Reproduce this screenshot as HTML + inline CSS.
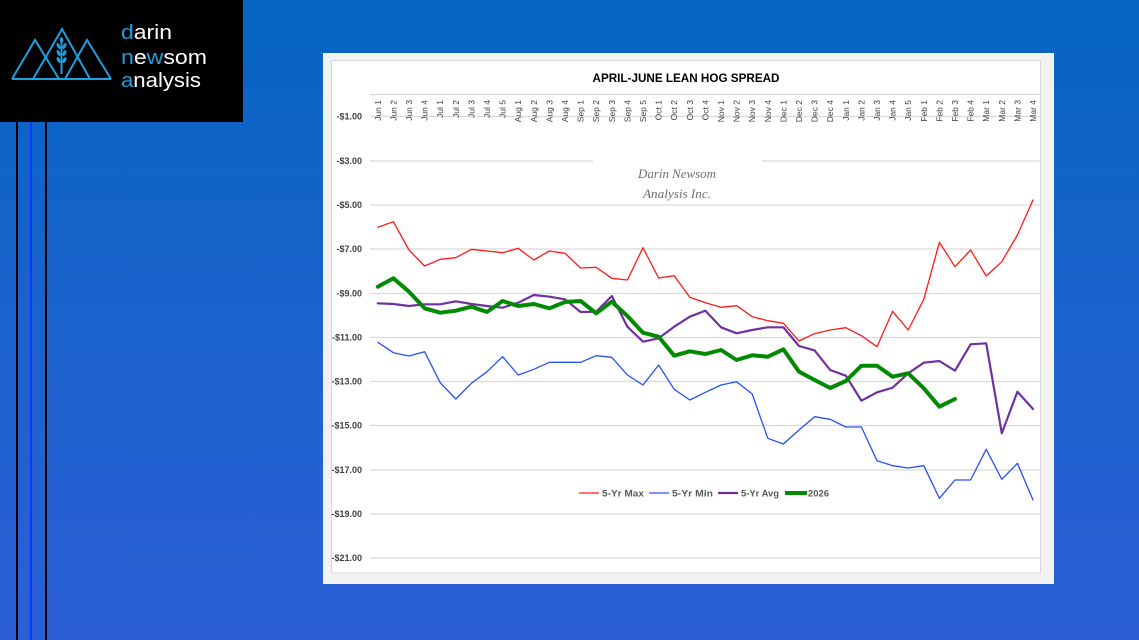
<!DOCTYPE html>
<html><head><meta charset="utf-8"><style>
html,body{margin:0;padding:0;width:1139px;height:640px;overflow:hidden;background:linear-gradient(180deg,#0565c2 0%,#1b62cc 50%,#2c5fd7 100%);}
svg{display:block;}
</style></head><body>
<svg width="1139" height="640" viewBox="0 0 1139 640" xmlns="http://www.w3.org/2000/svg">
<!-- logo -->
<rect x="0" y="0" width="243" height="122" fill="#000"/>
<g fill="none" stroke="#1e9fe0" stroke-width="2" stroke-linejoin="miter">
<polyline points="12,79 35,40 59,79"/>
<polyline points="33,79 62,29 90,79"/>
<polyline points="65,79 87,40 111,79"/>
<line x1="12" y1="79" x2="111" y2="79"/>
<line x1="61.5" y1="40" x2="61.5" y2="74"/>
</g>
<g fill="#1e9fe0">
<ellipse cx="61.5" cy="40" rx="1.6" ry="3"/>
<ellipse cx="58.5" cy="46" rx="1.6" ry="3.2" transform="rotate(-25 58.5 46)"/>
<ellipse cx="64.5" cy="46" rx="1.6" ry="3.2" transform="rotate(25 64.5 46)"/>
<ellipse cx="58.5" cy="53" rx="1.6" ry="3.2" transform="rotate(-25 58.5 53)"/>
<ellipse cx="64.5" cy="53" rx="1.6" ry="3.2" transform="rotate(25 64.5 53)"/>
<ellipse cx="58.5" cy="60" rx="1.6" ry="3.2" transform="rotate(-25 58.5 60)"/>
<ellipse cx="64.5" cy="60" rx="1.6" ry="3.2" transform="rotate(25 64.5 60)"/>
</g>
<g font-family="Liberation Sans, sans-serif" font-size="20" fill="#fff">
<text x="121" y="39" textLength="51" lengthAdjust="spacingAndGlyphs"><tspan fill="#1e9fe0">d</tspan>arin</text>
<text x="121" y="64" textLength="86" lengthAdjust="spacingAndGlyphs"><tspan fill="#1e9fe0">n</tspan>e<tspan fill="#1e9fe0">w</tspan>som</text>
<text x="121" y="87" textLength="80" lengthAdjust="spacingAndGlyphs"><tspan fill="#1e9fe0">a</tspan>nalysis</text>
</g>
<!-- left vertical lines -->
<rect x="16" y="122" width="2" height="518" fill="#000"/>
<rect x="30" y="122" width="2" height="518" fill="#0a36ff"/>
<rect x="45" y="122" width="2" height="518" fill="#000"/>

<!-- chart panel -->
<rect x="323" y="53" width="731" height="531" fill="#f2f2f2"/>
<rect x="331.5" y="60.5" width="709" height="512.5" fill="#fff" stroke="#d9d9d9" stroke-width="1"/>

<text x="686" y="82" text-anchor="middle" font-family="Liberation Sans, sans-serif" font-weight="bold" font-size="12" fill="#000" textLength="187" lengthAdjust="spacingAndGlyphs">APRIL-JUNE LEAN HOG SPREAD</text>

<!-- gridlines -->
<g stroke="#d9d9d9" stroke-width="1.2">
<line x1="370" y1="94.5" x2="1041" y2="94.5"/>
<line x1="370" y1="116.5" x2="1041" y2="116.5"/>
<line x1="370" y1="161" x2="593" y2="161"/>
<line x1="762" y1="161" x2="1041" y2="161"/>
<line x1="370" y1="205" x2="1041" y2="205"/>
<line x1="370" y1="249" x2="1041" y2="249"/>
<line x1="370" y1="293.5" x2="1041" y2="293.5"/>
<line x1="370" y1="337.5" x2="1041" y2="337.5"/>
<line x1="370" y1="381.5" x2="1041" y2="381.5"/>
<line x1="370" y1="425.5" x2="1041" y2="425.5"/>
<line x1="370" y1="470" x2="1041" y2="470"/>
<line x1="370" y1="514" x2="1041" y2="514"/>
<line x1="370" y1="558" x2="1041" y2="558"/>
</g>

<!-- y labels -->
<g font-family="Liberation Sans, sans-serif" font-weight="bold" font-size="9" fill="#404040" text-anchor="end">
<text x="362" y="119.5">-$1.00</text>
<text x="362" y="164">-$3.00</text>
<text x="362" y="208">-$5.00</text>
<text x="362" y="252">-$7.00</text>
<text x="362" y="296.5">-$9.00</text>
<text x="362" y="340.5">-$11.00</text>
<text x="362" y="384.5">-$13.00</text>
<text x="362" y="428.5">-$15.00</text>
<text x="362" y="473">-$17.00</text>
<text x="362" y="517">-$19.00</text>
<text x="362" y="561">-$21.00</text>
</g>

<!-- x labels -->
<g font-family="Liberation Sans, sans-serif" font-size="8.5" fill="#404040" text-anchor="end">
<text transform="translate(380.8,100) rotate(-90)">Jun 1</text>
<text transform="translate(396.4,100) rotate(-90)">Jun 2</text>
<text transform="translate(412,100) rotate(-90)">Jun 3</text>
<text transform="translate(427.6,100) rotate(-90)">Jun 4</text>
<text transform="translate(443.2,100) rotate(-90)">Jul 1</text>
<text transform="translate(458.8,100) rotate(-90)">Jul 2</text>
<text transform="translate(474.4,100) rotate(-90)">Jul 3</text>
<text transform="translate(490,100) rotate(-90)">Jul 4</text>
<text transform="translate(505.6,100) rotate(-90)">Jul 5</text>
<text transform="translate(521.2,100) rotate(-90)">Aug 1</text>
<text transform="translate(536.8,100) rotate(-90)">Aug 2</text>
<text transform="translate(552.4,100) rotate(-90)">Aug 3</text>
<text transform="translate(568,100) rotate(-90)">Aug 4</text>
<text transform="translate(583.6,100) rotate(-90)">Sep 1</text>
<text transform="translate(599.2,100) rotate(-90)">Sep 2</text>
<text transform="translate(614.8,100) rotate(-90)">Sep 3</text>
<text transform="translate(630.4,100) rotate(-90)">Sep 4</text>
<text transform="translate(646,100) rotate(-90)">Sep 5</text>
<text transform="translate(661.6,100) rotate(-90)">Oct 1</text>
<text transform="translate(677.2,100) rotate(-90)">Oct 2</text>
<text transform="translate(692.8,100) rotate(-90)">Oct 3</text>
<text transform="translate(708.4,100) rotate(-90)">Oct 4</text>
<text transform="translate(724,100) rotate(-90)">Nov 1</text>
<text transform="translate(739.6,100) rotate(-90)">Nov 2</text>
<text transform="translate(755.2,100) rotate(-90)">Nov 3</text>
<text transform="translate(770.8,100) rotate(-90)">Nov 4</text>
<text transform="translate(786.4,100) rotate(-90)">Dec 1</text>
<text transform="translate(802,100) rotate(-90)">Dec 2</text>
<text transform="translate(817.6,100) rotate(-90)">Dec 3</text>
<text transform="translate(833.2,100) rotate(-90)">Dec 4</text>
<text transform="translate(848.8,100) rotate(-90)">Jan 1</text>
<text transform="translate(864.4,100) rotate(-90)">Jan 2</text>
<text transform="translate(880,100) rotate(-90)">Jan 3</text>
<text transform="translate(895.6,100) rotate(-90)">Jan 4</text>
<text transform="translate(911.2,100) rotate(-90)">Jan 5</text>
<text transform="translate(926.8,100) rotate(-90)">Feb 1</text>
<text transform="translate(942.4,100) rotate(-90)">Feb 2</text>
<text transform="translate(958,100) rotate(-90)">Feb 3</text>
<text transform="translate(973.6,100) rotate(-90)">Feb 4</text>
<text transform="translate(989.2,100) rotate(-90)">Mar 1</text>
<text transform="translate(1004.8,100) rotate(-90)">Mar 2</text>
<text transform="translate(1020.4,100) rotate(-90)">Mar 3</text>
<text transform="translate(1036,100) rotate(-90)">Mar 4</text>
</g>

<!-- watermark -->
<g font-family="Liberation Serif, serif" font-style="italic" font-size="12.5" fill="#707070" text-anchor="middle">
<text x="677" y="178" textLength="78" lengthAdjust="spacingAndGlyphs">Darin Newsom</text>
<text x="677" y="198" textLength="68" lengthAdjust="spacingAndGlyphs">Analysis Inc.</text>
</g>

<!-- series -->
<g fill="none" stroke-linejoin="round" stroke-linecap="round">
<polyline stroke="#ff1a1a" stroke-width="1.3" points="377.8,227.3 393.4,221.7 409,250 424.6,266 440.2,259.3 455.8,257.7 471.4,249.3 487,251 502.6,252.7 518.2,248.3 533.8,260 549.4,251 565,253.3 580.6,268 596.2,267.3 611.8,278.3 627.4,280 643,247.7 658.6,278 674.2,275.7 689.8,297.3 705.4,302.7 721,307.3 736.6,305.7 752.2,316.7 767.8,320.7 783.4,323.3 799,341 814.6,333.6 830.2,330 845.8,327.7 861.4,335.7 877,346.7 892.6,311.3 908.2,330 923.8,299.3 939.4,242.3 955,266.7 970.6,250 986.2,276 1001.8,261.7 1017.4,235 1033,200"/>
<polyline stroke="#2650ff" stroke-width="1.3" points="377.8,342.3 393.4,352.7 409,356 424.6,351.7 440.2,382.7 455.8,399 471.4,383.3 487,371.7 502.6,356.7 518.2,375 533.8,369.3 549.4,362.3 565,362.3 580.6,362.3 596.2,355.7 611.8,357.3 627.4,375 643,385 658.6,365 674.2,389.3 689.8,400 705.4,392.3 721,385 736.6,381.7 752.2,394 767.8,438.3 783.4,444 799,430 814.6,416.7 830.2,419.3 845.8,427 861.4,427 877,460.7 892.6,465.7 908.2,468 923.8,465.7 939.4,498.3 955,480 970.6,480 986.2,449.3 1001.8,479.3 1017.4,463.3 1033,500"/>
<polyline stroke="#7030a0" stroke-width="2.2" points="377.8,303.3 393.4,304 409,306 424.6,304.3 440.2,304.3 455.8,301.3 471.4,304 487,306 502.6,307.7 518.2,302.7 533.8,295 549.4,296.7 565,299.3 580.6,312 596.2,311.7 611.8,296 627.4,326.7 643,341.7 658.6,338.3 674.2,326.7 689.8,316.7 705.4,310.7 721,327.3 736.6,333.3 752.2,330 767.8,327.3 783.4,327.3 799,346 814.6,350.4 830.2,370 845.8,375.7 861.4,400.7 877,392.3 892.6,387.7 908.2,373.3 923.8,362.7 939.4,361 955,370.7 970.6,344.3 986.2,343.3 1001.8,433.3 1017.4,391.7 1033,409"/>
<polyline stroke="#038a03" stroke-width="4" points="377.8,286.7 393.4,278.3 409,291.7 424.6,308.3 440.2,312.7 455.8,310.7 471.4,306.7 487,312 502.6,301 518.2,306 533.8,304 549.4,308.3 565,302 580.6,301 596.2,313.3 611.8,301.7 627.4,316 643,332.7 658.6,336.7 674.2,355.7 689.8,351.3 705.4,354 721,350 736.6,360 752.2,355.3 767.8,356.7 783.4,349.3 799,371.7 814.6,380 830.2,388 845.8,381 861.4,365.7 877,365.7 892.6,376.7 908.2,373.3 923.8,388.3 939.4,406.7 955,399"/>
</g>

<!-- legend -->
<g stroke-linecap="butt">
<line x1="579" y1="493" x2="599" y2="493" stroke="#ff1a1a" stroke-width="1.3"/>
<line x1="649" y1="493" x2="669" y2="493" stroke="#2650ff" stroke-width="1.3"/>
<line x1="718" y1="493" x2="738" y2="493" stroke="#7030a0" stroke-width="2.2"/>
<line x1="785" y1="493" x2="807" y2="493" stroke="#038a03" stroke-width="4"/>
</g>
<g font-family="Liberation Sans, sans-serif" font-weight="bold" font-size="9.5" fill="#595959">
<text x="602" y="496.5" textLength="42" lengthAdjust="spacingAndGlyphs">5-Yr Max</text>
<text x="672" y="496.5" textLength="41" lengthAdjust="spacingAndGlyphs">5-Yr Min</text>
<text x="741" y="496.5" textLength="38" lengthAdjust="spacingAndGlyphs">5-Yr Avg</text>
<text x="808" y="496.5" textLength="21" lengthAdjust="spacingAndGlyphs">2026</text>
</g>
</svg>
</body></html>
